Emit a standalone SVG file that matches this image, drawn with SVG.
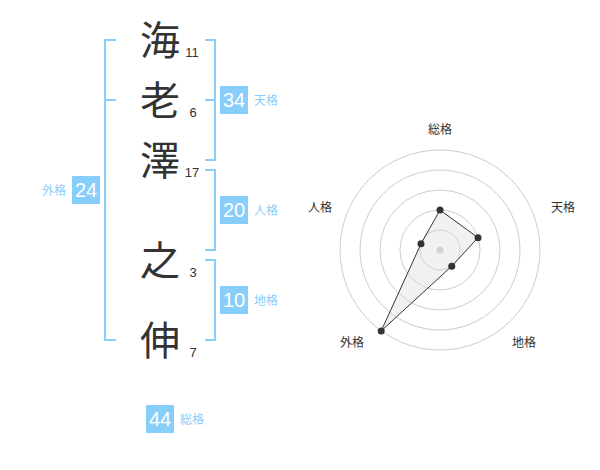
<svg xmlns="http://www.w3.org/2000/svg" width="600" height="470" viewBox="0 0 600 470">
<style>
.ch{font-family:"Noto Sans CJK JP","Noto Sans CJK SC",sans-serif;font-size:40px;fill:#333;text-anchor:middle}
.num{font-family:"Liberation Sans",Arial,sans-serif;font-size:13px;fill:#333;text-anchor:middle}
.box{fill:#87cefa}
.bn{font-family:"Liberation Sans",Arial,sans-serif;font-size:20px;fill:#fff;text-anchor:middle}
.lb{font-family:"Noto Sans CJK JP","Noto Sans CJK SC",sans-serif;font-size:12px;fill:#87cefa}
.br{fill:none;stroke:#87cefa;stroke-width:2}
.ring{fill:none;stroke:#ccc;stroke-width:1}
.rl{font-family:"Noto Sans CJK JP","Noto Sans CJK SC",sans-serif;font-size:12px;fill:#333;text-anchor:middle}
.dot{fill:#333}
</style>
<rect width="600" height="470" fill="#fff"/>
<g id="connectors">
<path class="br" d="M116,40 H105 V340 H116 M105,100 H116"/>
<path class="br" d="M205,40 H215 V160 H205 M215,100 H205"/>
<path class="br" d="M205,170 H215 V250 H205"/>
<path class="br" d="M205,260 H215 V340 H205"/>
</g>
<g id="char1"><text class="ch" x="160" y="55">海</text><text class="num" x="192" y="57">11</text></g>
<g id="char2"><text class="ch" x="160" y="115">老</text><text class="num" x="193" y="117">6</text></g>
<g id="char3"><text class="ch" x="160" y="175">澤</text><text class="num" x="192" y="177">17</text></g>
<g id="char4"><text class="ch" x="160" y="275">之</text><text class="num" x="193" y="277">3</text></g>
<g id="char5"><text class="ch" x="160" y="355">伸</text><text class="num" x="193" y="357">7</text></g>
<g id="tenkaku"><rect class="box" x="220" y="86" width="28" height="28"/><text class="bn" x="234" y="107">34</text><text class="lb" x="254" y="105">天格</text></g>
<g id="jinkaku"><rect class="box" x="220" y="196" width="28" height="28"/><text class="bn" x="234" y="217">20</text><text class="lb" x="254" y="215">人格</text></g>
<g id="chikaku"><rect class="box" x="220" y="286" width="28" height="28"/><text class="bn" x="234" y="307">10</text><text class="lb" x="254" y="305">地格</text></g>
<g id="gaikaku"><rect class="box" x="72" y="176" width="28" height="28"/><text class="bn" x="86" y="197">24</text><text class="lb" x="66" y="195" text-anchor="end">外格</text></g>
<g id="soukaku"><rect class="box" x="146" y="405" width="28" height="28"/><text class="bn" x="160" y="426">44</text><text class="lb" x="180" y="424">総格</text></g>
<g id="radar">
<circle class="ring" cx="440" cy="250" r="20"/>
<circle class="ring" cx="440" cy="250" r="40"/>
<circle class="ring" cx="440" cy="250" r="60"/>
<circle class="ring" cx="440" cy="250" r="80"/>
<circle class="ring" cx="440" cy="250" r="100"/>
<circle cx="440" cy="250" r="3.5" fill="#ccc"/>
<polygon points="440,210 478.04,237.64 451.76,266.18 381.22,330.9 420.98,243.82" fill="#ddd" fill-opacity="0.4" stroke="#333" stroke-width="1"/>
<circle class="dot" cx="440" cy="210" r="3.5"/>
<circle class="dot" cx="478.04" cy="237.64" r="3.5"/>
<circle class="dot" cx="451.76" cy="266.18" r="3.5"/>
<circle class="dot" cx="381.22" cy="330.9" r="3.5"/>
<circle class="dot" cx="420.98" cy="243.82" r="3.5"/>
<text class="rl" x="440" y="134">総格</text>
<text class="rl" x="563" y="212">天格</text>
<text class="rl" x="524" y="347">地格</text>
<text class="rl" x="352" y="347">外格</text>
<text class="rl" x="320" y="212">人格</text>
</g>
</svg>
